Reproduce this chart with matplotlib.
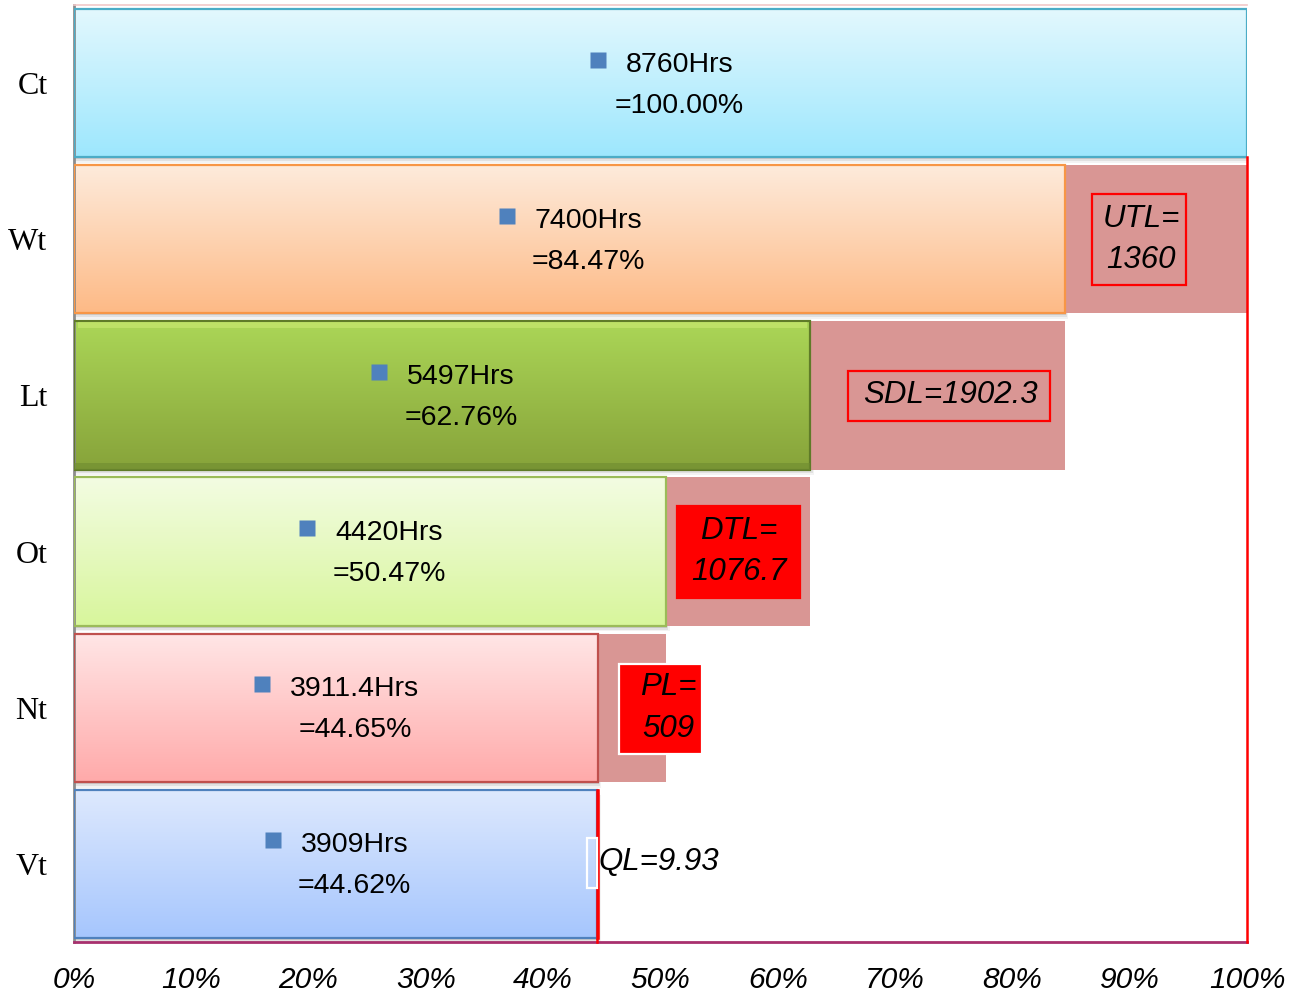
import numpy as np
import matplotlib
matplotlib.use("Agg")
import matplotlib.pyplot as plt
from matplotlib.patches import Rectangle
from matplotlib.colors import to_rgb

# Time categories, hours and share of calendar time
categories = ["Ct", "Wt", "Lt", "Ot", "Nt", "Vt"]
hours = [8760, 7400, 5497, 4420, 3911.4, 3909]
shares = [100.00, 84.47, 62.76, 50.47, 44.65, 44.62]
loss_labels = ["UTL=\n1360", "SDL=1902.3", "DTL=\n1076.7", "PL=\n509", "QL=9.93"]
x_ticks = [0, 10, 20, 30, 40, 50, 60, 70, 80, 90, 100]

top_colors = ["#E3F8FE", "#FEEBDC", "#ABD657", "#F3FCE2", "#FFE6E6", "#DEE9FE"]
bottom_colors = ["#9DE7FD", "#FDBA86", "#87A33A", "#D8F69C", "#FFAAAA", "#A6C6FD"]
edge_colors = ["#4BACC6", "#F79646", "#5F7B28", "#9BBB59", "#C0504D", "#4F81BD"]
loss_color = "#D99694"
bar_h = 0.95

fig = plt.figure(figsize=(13.09, 9.96), dpi=100)
ax = fig.add_axes([74 / 1309, 1 - 942 / 996, (1247 - 74) / 1309, (942 - 5) / 996])


def gradient(top, bottom, n=128):
    t = np.linspace(0, 1, n)[:, None]
    c0 = np.array(to_rgb(top))
    c1 = np.array(to_rgb(bottom))
    return (c0 * (1 - t) + c1 * t)[:, None, :]


for i, (cat, s) in enumerate(zip(categories, shares)):
    y0, y1 = i - bar_h / 2, i + bar_h / 2
    # soft drop shadow
    for k, a in enumerate([0.18, 0.12, 0.07]):
        ax.add_patch(Rectangle((0, y0 + 0.012 * (k + 1)), s + 0.1 * (k + 1), bar_h,
                               facecolor="#606060", edgecolor="none", alpha=a, zorder=1))
    ax.imshow(gradient(top_colors[i], bottom_colors[i]), extent=[0, s, y1, y0],
              origin="upper", aspect="auto", zorder=2, interpolation="bilinear")
    ax.add_patch(Rectangle((0, y0), s, bar_h, facecolor="none",
                           edgecolor=edge_colors[i], lw=1.6, zorder=3))
    if cat == "Lt":
        # bevel highlight on the top edge, darker lower edge
        ax.add_patch(Rectangle((0.3, y0 + 0.005), s - 0.6, 0.04, facecolor="#D2EE78",
                               edgecolor="none", alpha=0.5, zorder=3))
        ax.add_patch(Rectangle((0.0, y1 - 0.04), s, 0.04, facecolor="#6E8B30",
                               edgecolor="none", alpha=0.6, zorder=3))

# Loss segments between successive time levels
for i in range(1, len(shares)):
    left = shares[i]
    width = shares[i - 1] - shares[i]
    last = i == len(shares) - 1
    ax.barh(i, width, left=left, height=bar_h, color=loss_color,
            edgecolor="red" if last else "none", lw=1.8, zorder=2)
ax.plot([shares[-1], shares[-1]], [len(shares) - 1 - bar_h / 2, len(shares) - 0.5],
        color="red", lw=1.8, zorder=4, clip_on=False)
ax.plot([100, 100], [bar_h / 2, len(shares) - 0.5], color="red", lw=1.8,
        zorder=4, clip_on=False)

# Value labels in each bar
label_font = dict(family="Liberation Sans", size=20.5, color="black")
line1 = []
for i, (h, s) in enumerate(zip(hours, shares)):
    cx = s / 2
    t1 = ax.annotate(f"{h:g}Hrs", (cx, i), xytext=(19, 18.5), textcoords="offset pixels",
                     ha="center", va="center", zorder=6, **label_font)
    ax.annotate(f"={s:.2f}%", (cx, i), xytext=(19, -22.5), textcoords="offset pixels",
                ha="center", va="center", zorder=6, **label_font)
    line1.append(t1)

# Loss annotation boxes: (x0, x1, y0, y1, face, edge)
loss_boxes = [
    (86.8, 94.8, 0.71, 1.29, "none", "red"),
    (66.0, 83.2, 1.845, 2.165, "none", "red"),
    (51.4, 61.9, 2.71, 3.30, "red", "red"),
    (46.5, 53.5, 3.72, 4.295, "red", "white"),
    (43.7, 44.62, 4.835, 5.155, "none", "white"),
]
loss_text_pos = [(91.0, 1.0, "center"), (74.7, 2.0, "center"), (56.7, 3.0, "center"),
                 (50.7, 4.0, "center"), (44.7, 4.99, "left")]
for (x0, x1, y0, y1, fc, ec), (tx, ty, ha), lab in zip(loss_boxes, loss_text_pos, loss_labels):
    ax.add_patch(Rectangle((x0, y0), x1 - x0, y1 - y0, facecolor=fc, edgecolor=ec,
                           lw=1.6, zorder=5))
    ax.text(tx, ty, lab, ha=ha, va="center", family="Liberation Sans", style="italic",
            size=22.5, linespacing=1.5, zorder=6)

ax.set_xlim(0, 100)
ax.set_ylim(len(categories) - 0.5, -0.5)
ax.set_xticks(x_ticks)
ax.set_xticklabels([f"{v}%" for v in x_ticks], family="Liberation Sans", style="italic",
                   size=21.5)
ax.set_yticks(range(len(categories)))
ax.set_yticklabels(categories, family="Liberation Serif", size=23)
ax.tick_params(axis="x", length=0, pad=17)
ax.tick_params(axis="y", length=0, pad=19)

ax.spines["right"].set_visible(False)
ax.spines["top"].set_color("#F2C8C8")
ax.spines["top"].set_linewidth(1.2)
ax.spines["left"].set_color("#8C8C8C")
ax.spines["left"].set_linewidth(2)
ax.spines["bottom"].set_color("#A8306E")
ax.spines["bottom"].set_linewidth(2)

# Small square markers to the left of each value label
fig.canvas.draw()
inv = ax.transData.inverted()
for i, t in enumerate(line1):
    bb = t.get_window_extent()
    px, py = bb.x0 - 28, (bb.y0 + bb.y1) / 2 + 5
    dx, dy = inv.transform((px, py))
    ax.plot(dx, dy, marker="s", markersize=11, color="#4F81BD", mec="none", zorder=6)

fig.savefig("out.png", dpi=100)
